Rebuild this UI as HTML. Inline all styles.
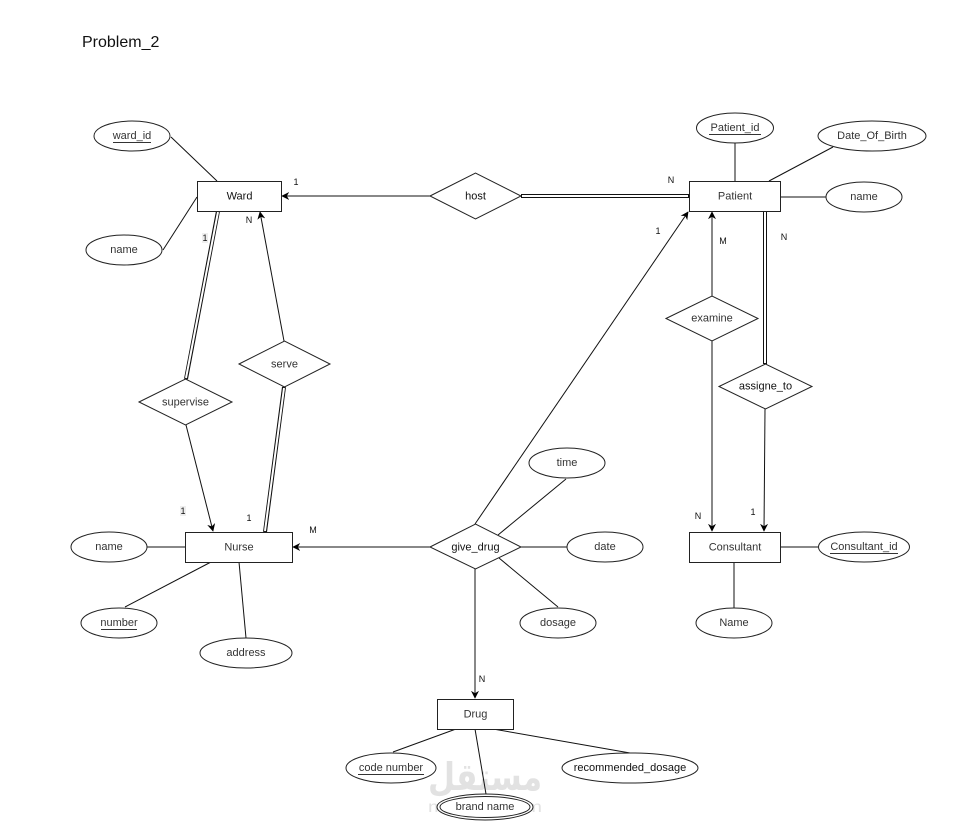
<!DOCTYPE html>
<html>
<head>
<meta charset="utf-8">
<style>
html,body{margin:0;padding:0;background:#fff;}
body{width:978px;height:833px;overflow:hidden;}
svg{display:block;}
text{font-family:"Liberation Sans","DejaVu Sans",sans-serif;}
.t{font-size:11px;fill:#333;text-anchor:middle;dominant-baseline:central;}
.c{font-size:9px;fill:#111;text-anchor:middle;dominant-baseline:central;}
</style>
</head>
<body>
<svg width="978" height="833" viewBox="0 0 978 833" xmlns="http://www.w3.org/2000/svg">
<defs>
<marker id="ar" viewBox="0 0 10 10" refX="9" refY="5" markerWidth="8" markerHeight="8" markerUnits="userSpaceOnUse" orient="auto">
<path d="M0,0 L10,5 L0,10 L3,5 Z" fill="#000"/>
</marker>
</defs>
<rect width="978" height="833" fill="#fff"/>

<!-- watermark -->
<text x="428" y="790" font-size="38" fill="#e2e2e2" textLength="114" lengthAdjust="spacingAndGlyphs" style="font-family:'DejaVu Sans',sans-serif;font-weight:bold;">مستقل</text>
<text x="428" y="812" font-size="16" fill="#e2e2e2" textLength="114" lengthAdjust="spacingAndGlyphs">mostaql.com</text>

<text x="82" y="47" font-size="16" fill="#111">Problem_2</text>

<g stroke="#111" stroke-width="1" fill="none">
<!-- Ward attrs -->
<line x1="171" y1="137" x2="217" y2="181"/>
<line x1="163" y1="250" x2="197" y2="197"/>
<!-- Patient attrs -->
<line x1="735" y1="143" x2="735" y2="181"/>
<line x1="833" y1="147" x2="769" y2="181"/>
<line x1="780" y1="197" x2="826" y2="197"/>
<!-- host -->
<line x1="430" y1="196" x2="282" y2="196" marker-end="url(#ar)"/>
<!-- serve to ward -->
<line x1="284" y1="341" x2="260" y2="212" marker-end="url(#ar)"/>
<!-- supervise to nurse -->
<line x1="186" y1="425" x2="213" y2="531" marker-end="url(#ar)"/>
<!-- Nurse attrs -->
<line x1="147" y1="547" x2="185" y2="547"/>
<line x1="125" y1="607" x2="211" y2="562"/>
<line x1="239" y1="562" x2="246" y2="638"/>
<!-- give_drug -->
<line x1="430" y1="547" x2="293" y2="547" marker-end="url(#ar)"/>
<line x1="498" y1="535" x2="566" y2="479"/>
<line x1="521" y1="547" x2="567" y2="547"/>
<line x1="499" y1="558" x2="558" y2="607"/>
<line x1="475" y1="524" x2="688" y2="212" marker-end="url(#ar)"/>
<line x1="475" y1="569" x2="475" y2="698" marker-end="url(#ar)"/>
<!-- examine -->
<line x1="712" y1="296" x2="712" y2="212" marker-end="url(#ar)"/>
<line x1="712" y1="341" x2="712" y2="531" marker-end="url(#ar)"/>
<!-- assigne_to -->
<line x1="765" y1="409" x2="764" y2="531" marker-end="url(#ar)"/>
<!-- Consultant attrs -->
<line x1="780" y1="547" x2="818" y2="547"/>
<line x1="734" y1="562" x2="734" y2="608"/>
<!-- Drug attrs -->
<line x1="393" y1="752" x2="456" y2="729"/>
<line x1="475" y1="729" x2="486" y2="794"/>
<line x1="493" y1="729" x2="630" y2="753"/>
</g>

<!-- double lines -->
<g fill="none">
<g stroke="#111" stroke-width="4">
<line x1="521" y1="196" x2="689" y2="196"/>
<line x1="218" y1="211" x2="186" y2="379"/>
<line x1="284" y1="387" x2="265" y2="532"/>
<line x1="765" y1="211" x2="765" y2="364"/>
</g>
<g stroke="#fff" stroke-width="2">
<line x1="522" y1="196" x2="688" y2="196"/>
<line x1="218" y1="212" x2="186" y2="378"/>
<line x1="284" y1="388" x2="265" y2="531"/>
<line x1="765" y1="212" x2="765" y2="363"/>
</g>
</g>

<!-- entities -->
<g fill="#fff" stroke="#222" stroke-width="1">
<rect x="197.5" y="181.5" width="84" height="30"/>
<rect x="689.5" y="181.5" width="91" height="30"/>
<rect x="185.5" y="532.5" width="107" height="30"/>
<rect x="689.5" y="532.5" width="91" height="30"/>
<rect x="437.5" y="699.5" width="76" height="30"/>
</g>

<!-- relationships -->
<g fill="#fff" stroke="#222" stroke-width="1">
<polygon points="430,196 475.5,173 521,196 475.5,219"/>
<polygon points="139,402 185.5,379 232,402 185.5,425"/>
<polygon points="239,364 284.5,341 330,364 284.5,387"/>
<polygon points="430,547 475.5,524 521,547 475.5,569"/>
<polygon points="666,318.5 712,296 758,318.5 712,341"/>
<polygon points="719,386.5 765.5,364 812,386.5 765.5,409"/>
</g>

<!-- attributes -->
<g fill="#fff" stroke="#222" stroke-width="1">
<ellipse cx="132" cy="136" rx="38" ry="15"/>
<ellipse cx="124" cy="250" rx="38" ry="15"/>
<ellipse cx="735" cy="128" rx="38.5" ry="15"/>
<ellipse cx="872" cy="136" rx="54" ry="15"/>
<ellipse cx="864" cy="197" rx="38" ry="15"/>
<ellipse cx="109" cy="547" rx="38" ry="15"/>
<ellipse cx="119" cy="623" rx="38" ry="15"/>
<ellipse cx="246" cy="653" rx="46" ry="15"/>
<ellipse cx="567" cy="463" rx="38" ry="15"/>
<ellipse cx="605" cy="547" rx="38" ry="15"/>
<ellipse cx="558" cy="623" rx="38" ry="15"/>
<ellipse cx="864" cy="547" rx="45.5" ry="15"/>
<ellipse cx="734" cy="623" rx="38" ry="15"/>
<ellipse cx="391" cy="768" rx="45" ry="15"/>
<ellipse cx="630" cy="768" rx="68" ry="15"/>
<ellipse cx="485" cy="807" rx="48" ry="13"/>
<ellipse cx="485" cy="807" rx="45" ry="10.5"/>
</g>

<!-- labels -->
<text class="t" x="239.5" y="196.5" style="fill:#111">Ward</text>
<text class="t" x="735" y="196.5">Patient</text>
<text class="t" x="239" y="547.5">Nurse</text>
<text class="t" x="735" y="547.5">Consultant</text>
<text class="t" x="475.5" y="714.5">Drug</text>

<text class="t" x="475.5" y="196.5" style="fill:#111">host</text>
<text class="t" x="185.5" y="402.5">supervise</text>
<text class="t" x="284.5" y="364.5">serve</text>
<text class="t" x="475.5" y="547.5" style="fill:#111">give_drug</text>
<text class="t" x="712" y="318.5">examine</text>
<text class="t" x="765.5" y="386.5" style="fill:#111">assigne_to</text>

<text class="t" x="132" y="136">ward_id</text>
<line x1="113" y1="142.5" x2="151" y2="142.5" stroke="#333" stroke-width="1"/>
<text class="t" x="124" y="250">name</text>
<text class="t" x="735" y="128">Patient_id</text>
<line x1="709" y1="134.5" x2="761" y2="134.5" stroke="#333" stroke-width="1"/>
<text class="t" x="872" y="136">Date_Of_Birth</text>
<text class="t" x="864" y="197">name</text>
<text class="t" x="109" y="547">name</text>
<text class="t" x="119" y="623">number</text>
<line x1="101" y1="629.5" x2="137" y2="629.5" stroke="#333" stroke-width="1"/>
<text class="t" x="246" y="653">address</text>
<text class="t" x="567" y="463">time</text>
<text class="t" x="605" y="547">date</text>
<text class="t" x="558" y="623">dosage</text>
<text class="t" x="864" y="547">Consultant_id</text>
<line x1="830" y1="553.5" x2="898" y2="553.5" stroke="#333" stroke-width="1"/>
<text class="t" x="734" y="623">Name</text>
<text class="t" x="391" y="768">code number</text>
<line x1="358" y1="774.5" x2="424" y2="774.5" stroke="#333" stroke-width="1"/>
<text class="t" x="630" y="768" style="fill:#111">recommended_dosage</text>
<text class="t" x="485" y="807">brand name</text>

<!-- cardinalities -->
<text class="c" x="296" y="182">1</text>
<text class="c" x="671" y="180">N</text>
<text class="c" x="249" y="220">N</text>
<rect x="202" y="233" width="6" height="10" fill="#eee"/>
<text class="c" x="205" y="238">1</text>
<rect x="180" y="506" width="6" height="10" fill="#eee"/>
<text class="c" x="183" y="511">1</text>
<text class="c" x="249" y="518">1</text>
<text class="c" x="313" y="530">M</text>
<text class="c" x="658" y="231">1</text>
<text class="c" x="723" y="241">M</text>
<text class="c" x="784" y="237">N</text>
<text class="c" x="698" y="516">N</text>
<text class="c" x="753" y="512">1</text>
<text class="c" x="482" y="679">N</text>
</svg>
</body>
</html>
